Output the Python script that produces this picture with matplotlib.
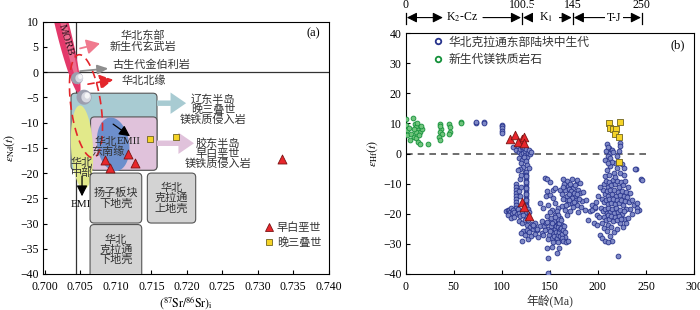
import numpy as np
import matplotlib
matplotlib.use('Agg')
import matplotlib.pyplot as plt
from matplotlib.patches import Polygon, FancyBboxPatch
from matplotlib.lines import Line2D
from matplotlib.ticker import FormatStrFormatter

plt.rcParams['font.family'] = ['Liberation Serif', 'Noto Sans CJK SC']
plt.rcParams['mathtext.fontset'] = 'stix'
plt.rcParams['axes.unicode_minus'] = True

CJK = ['Liberation Serif', 'Noto Sans CJK SC']

# ---------------- Panel (a) data ----------------
a_xticks = [0.700, 0.705, 0.710, 0.715, 0.720, 0.725, 0.730, 0.735, 0.740]
a_yticks = [-40, -35, -30, -25, -20, -15, -10, -5, 0, 5, 10]
a_k1_sr = [0.7085, 0.7092, 0.7117, 0.7127, 0.7334]
a_k1_nd = [-17.5, -18.9, -16.3, -18.1, -17.3]
a_t3_sr = [0.7148, 0.7185]
a_t3_nd = [-13.3, -12.8]

# ---------------- Panel (b) data ----------------
b_xticks = [0, 50, 100, 150, 200, 250, 300]
b_yticks = [-40, -30, -20, -10, 0, 10, 20, 30, 40]

cz_mafic = np.array([
    (0.5, 11.5), (0.5, 9.6), (1, 7.9), (1.5, 6.3), (8, 11.7), (9.5, 9.7), (11, 8.8), (13, 7.7),
    (14.5, 7.2), (10.5, 7.0), (6, 6.6), (8.5, 5.5), (11, 5.0), (13, 3.9), (15, 3.2), (16.5, 8.2),
    (15.5, 9.0), (4.5, 4.6), (23, 3.3), (36, 9.7), (37, 8.2), (36, 7.2), (38, 6.6), (35, 5.5),
    (36, 4.6), (36, 9.0), (45, 9.7), (46, 8.9), (46, 7.3), (45, 6.6), (58, 10.5), (58, 10.0),
    (12, 10.2), (14, 6.0), (9, 8.2), (3, 8.5)])

ncc_early = np.array([
    (73, 10.1), (73, 10.5), (81, 10.5), (81, 10.0), (100, 9.6), (100, 9.0), (100, 8.3),
    (100, 7.5), (100, 6.8)])

ncc_k1 = np.array([
    (112, 2.0), (115, 1.2), (117, 2.4), (118, 0.5), (119, 1.6), (120, -0.3), (121, 2.2), (122, 1.0),
    (122.5, 0.2), (123, 1.8), (124, -0.5), (124.5, 0.8), (125, 1.5), (126, -1.0), (127, 0.3),
    (128, 1.2), (129, -0.2), (130, 0.6), (118, -1.5), (121, -2.0), (123, -1.2), (125, -2.6),
    (120, -3.2), (122, -4.5), (119, -5.0), (126, -3.8), (124, -6.0), (117, -5.5), (128, -4.8),
    (125.2, -6), (125.4, -7), (125.2, -8), (125.4, -9), (125.2, -10), (125.4, -11), (125.2, -12),
    (125.4, -13), (125.2, -14), (125.4, -15), (125.2, -16), (125.4, -17), (125.2, -18),
    (125.4, -19), (125.2, -20), (125.4, -21), (124.8, -7.5), (124.8, -9.5), (124.8, -11.5),
    (124.8, -13.5), (124.8, -15.5), (124.8, -17.5), (124.8, -19.5),
    (114.8, -10), (114.6, -11), (114.8, -12), (114.6, -13), (114.8, -14), (114.6, -15),
    (114.8, -16), (114.6, -17), (114.8, -18), (114.6, -19), (119, -8.5), (120, -7),
    (118, -12.5), (119, -14), (120, -11),
    (104, -19.2), (106, -18.6), (107, -19.8), (108, -18.9), (109, -19.5), (110, -18.2),
    (111, -19.9), (112, -18.7), (113, -19.4), (116, -20.0), (117, -18.5), (118, -19.7),
    (119, -20.6), (121, -19.0), (122, -20.3), (106, -20.4), (110, -21.3), (113, -21.0),
    (127, -18.5), (128, -19.5),
    (118, -22.5), (121, -23.0), (124, -22.2), (126, -23.8), (127, -22.0), (129, -24.5),
    (131, -23.5), (132, -25.0), (122, -25.8), (120, -26.5), (124, -27.0), (126, -25.5),
    (128, -26.2), (121, -29.0), (127, -28.5), (133, -24.0), (130, -27.5), (135, -26.8),
    (135, -23.0), (137, -25.5)])

ncc_j = np.array([
    (145, -8.1), (147, -8.5), (150, -9.3), (153, -12.0), (147, -12.5), (146, -14.2), (150, -13.8),
    (153.7, -14.7), (148.5, -17), (155.5, -16.4), (152, -18.6), (159, -18.0), (146.8, -20.8),
    (155.5, -20.3), (160.7, -21.4), (150, -19.5), (157, -19.2), (143, -18.0), (140, -16.5),
    (141.6, -22.5), (139.9, -24.1), (136.4, -25.2), (141.6, -26.3), (132.9, -23.6), (144, -24.0),
    (146, -23.2), (143, -27.0), (138, -27.8),
    (150.3, -22.5), (157.2, -23), (162.4, -23.6), (153.7, -24.7), (159, -25.2), (152, -26.3),
    (157.2, -26.9), (162.4, -25.8), (155.5, -28), (160.7, -28.6), (165.9, -27.7), (148, -25),
    (149, -27), (151, -24), (152, -28), (154, -22.5), (154, -27.5), (155, -25), (156, -24),
    (156, -26), (157, -28.2), (158, -23.5), (158, -27), (159, -24.5), (160, -26), (160, -23),
    (161, -27.3), (161, -25), (162, -24.6), (163, -26.7), (163, -28), (164, -25.3), (165, -24),
    (152.5, -23.2), (150, -25.8), (148, -28.5), (153, -29.5), (158, -29.5), (164, -29.2),
    (166, -26), (167, -29.5), (151, -21.5), (147, -22.6), (145, -25.5), (158, -21.8), (162, -22),
    (159, -20.4), (155, -21.2),
    (146.8, -31.3), (148.5, -34.6), (157.2, -33), (169.4, -29.1), (152, -31), (160, -31.5),
    (148, -39.6),
    (167.6, -9.2), (172.8, -8.4), (178, -9.7), (169.4, -10.9), (174.6, -11.4), (179.8, -12),
    (171.1, -13.1), (176.3, -14.2), (181.5, -13.1), (167.6, -15.3), (172.8, -16.4), (178, -17),
    (183.2, -15.8), (165.9, -18.6), (171.1, -19.1), (160.7, -12), (162.4, -13.6), (164, -15),
    (155.5, -11.4), (186.7, -18.6), (191.9, -19.1), (166, -12.2), (168, -14), (170, -11.8),
    (172, -12.5), (173, -14.8), (175, -13), (177, -15.5), (169, -16.8), (174, -17.8), (165, -10),
    (176, -10.5), (180, -15), (184, -12.8), (168, -20.5), (163, -17.5), (170, -15.5),
    (179, -19.5), (182, -17.8), (188, -15.5), (164, -11), (170, -13.6), (175, -16), (167, -17),
    (171, -10), (178, -13.5), (164, -8.4), (177.8, -8.9), (181.3, -9.8)])

ncc_t = np.array([
    (209.4, 3.0), (211.1, 1.9), (208.7, 0.8), (212.8, 0.2), (210, -0.9), (207.6, -2), (214.6, 1.3),
    (223.2, 3.5), (222.5, 2.4), (221.5, 0.8), (219.8, -0.9), (218, -3.1), (225, -3.6),
    (226.7, -4.8), (219.8, -4.8), (212.8, -4.2), (216.3, -6.4), (223.2, -6.4), (226.7, -7),
    (239.9, -5.3), (244.7, -8.6), (210, 2.2), (213, -1.5), (215, -2.8), (211, -3.2), (209, -5.5),
    (216, 0.5),
    (193.7, -17), (197.2, -18.1), (195.5, -23), (199, -23.6), (205.9, -24.7), (211, -23.6),
    (209.4, -25.8), (202.4, -26.9), (229.5, -23), (237.1, -17), (240.6, -16.4), (242.3, -18.6),
    (233, -18.3), (229, -18.5), (226.7, -21.9), (223, -23), (212.8, -27.4), (203.8, -28.1),
    (207.3, -29.2), (221.1, -34), (238.5, -5.3), (245.4, -8.7), (240.2, -18.1), (240.9, -19.2),
    (190, -22), (193.4, -18.7), (196.9, -17.6), (198.6, -20.3),
    (206, -10), (208, -9), (210, -11), (212, -9.5), (214, -10.5), (216, -8.8), (218, -10),
    (220, -9.2), (222, -11), (224, -9.6), (226, -10.6), (228, -9), (205, -12), (207, -13.5),
    (209, -12.5), (211, -14), (213, -12.2), (215, -13.6), (217, -12), (219, -14.2),
    (221, -12.8), (223, -13.9), (225, -12.4), (227, -14), (229, -12.7), (204, -15), (206, -16.2),
    (208, -15.4), (210, -16.8), (212, -15.2), (214, -16.5), (216, -15), (218, -16.9),
    (220, -15.5), (222, -16.4), (224, -15.3), (226, -17), (228, -15.8), (230, -14.5), (203, -18),
    (205, -19), (207, -18.3), (209, -19.6), (211, -18.2), (213, -19.4), (215, -18.4),
    (217, -19.8), (219, -18.1), (221, -19.3), (223, -18.6), (225, -20), (227, -19.2), (206, -21),
    (208, -22), (210, -20.5), (212, -21.6), (214, -20.8), (216, -22.4), (218, -21), (220, -22),
    (222, -20.6), (224, -21.8), (207, -7.5), (212, -7), (218, -7.8), (231, -11), (233, -13),
    (232, -16), (235, -20), (200, -14), (202, -11), (198, -16), (201, -21), (204, -23),
    (214, -24.5), (217, -26), (220, -25), (215, -28.9), (210, -29.3), (226, -24.5),
    (231, -21.3), (236, -15.5)])

b_k1_age = [108.6, 113.9, 120.8, 123.2, 117.3, 123.2, 120.6, 123.0, 128.2]
b_k1_hf = [4.65, 6.0, 4.9, 5.55, 3.9, 3.55, -16.2, -17.9, -20.6]
b_t3_age = [211.8, 222.5, 212.8, 215.6, 219.0, 218.0, 221.5, 222.2]
b_t3_hf = [9.97, 10.5, 8.5, 8.0, 8.0, 6.6, 5.5, -2.7]

tl_labels = ['0', '100.5', '145', '250']
tl_pos = [0.001, 0.4034, 0.5793, 0.8186]

# ---------------- colours ----------------
RED_FC, RED_EC = '#e8262b', '#7a1515'
YEL_FC, YEL_EC = '#f5d327', '#6f6420'
BLUE_FC, BLUE_EC = '#7f89c6', '#27338c'
GRN_FC, GRN_EC = '#70c47c', '#14913a'

fig = plt.figure(figsize=(7, 3.1), dpi=100)
axa = fig.add_axes([42.7 / 700, 36 / 310, 286.1 / 700, 252.3 / 310])
axb = fig.add_axes([405.7 / 700, 36 / 310, 288.3 / 700, 241 / 310])


def scales(ax):
    x0, x1 = ax.get_xlim()
    y0, y1 = ax.get_ylim()
    bb = ax.get_position()
    sx = bb.width * 700 / (x1 - x0)
    sy = bb.height * 310 / (y1 - y0)
    return sx, sy


def px_ellipse(ax, cx, cy, w, h, angle=0.0, **kw):
    sx, sy = scales(ax)
    t = np.linspace(0, 2 * np.pi, 120)
    th = np.radians(angle)
    a, b = w / 2, h / 2
    dx = a * np.cos(t) * np.cos(th) - b * np.sin(t) * np.sin(th)
    dy = a * np.cos(t) * np.sin(th) + b * np.sin(t) * np.cos(th)
    p = Polygon(np.column_stack([cx + dx / sx, cy + dy / sy]), closed=True, **kw)
    ax.add_patch(p)
    return p


def rbox(ax, x0, x1, y0, y1, r=4, **kw):
    sx, sy = scales(ax)
    p = FancyBboxPatch((x0, y0), x1 - x0, y1 - y0,
                       boxstyle=f"round,pad=0,rounding_size={r / sx}",
                       mutation_aspect=sx / sy, **kw)
    ax.add_patch(p)
    return p


# ======================= Panel (a) =======================
ax = axa
ax.set_xlim(0.6997, 0.740)
ax.set_ylim(-40, 10)
ax.set_xticks(a_xticks)
ax.set_yticks(a_yticks)
ax.xaxis.set_major_formatter(FormatStrFormatter('%.3f'))
ax.tick_params(direction='in', length=3, width=0.8, labelsize=8.5, pad=3)
ax.tick_params(axis='x', pad=5)

ax.axvline(0.7044, color='#333333', lw=0.9, zorder=1)
ax.axhline(0, color='#333333', lw=0.9, zorder=1)

# MORB band
px_ellipse(ax, 0.70262, 8.23, 130, 14, -76, fc='#e3386a', ec='none', zorder=2)
px_ellipse(ax, 0.70300, 7.6, 105, 6, -76, fc='#f07f9d', ec='none', alpha=0.75, zorder=2.1)
ax.text(0.70300, 6.3, 'MORB', rotation=-73, ha='center', va='center', fontsize=8,
        color='#2a0c18', zorder=2.5)

# boxes
rbox(ax, 0.70369, 0.7158, -19.4, -4.17, r=4, fc='#a8cbd2', ec='#555555', lw=0.8, zorder=3)
rbox(ax, 0.70644, 0.7158, -19.44, -8.87, r=4, fc='#e0c2db', ec='#555555', lw=0.8, zorder=4)
px_ellipse(ax, 0.70524, -14.9, 22, 84, 3, fc='#e2e98a', ec='none', zorder=5)
px_ellipse(ax, 0.70962, -14.3, 32, 54, 8, fc='#6d8fcc', ec='none', zorder=6)

# gray spheres
for cx, cy, d in [(0.70454, -1.19, 12), (0.70552, -4.96, 15)]:
    sx, sy = scales(ax)
    px_ellipse(ax, cx, cy, d, d, fc='#9c9eae', ec='none', zorder=7)
    px_ellipse(ax, cx + 2.2 / sx, cy, d * 0.65, d * 0.7, fc='#d6d7e0', ec='none', zorder=7.1)
    px_ellipse(ax, cx + 3.2 / sx, cy + 0.3, d * 0.35, d * 0.4, fc='#f5f5f7', ec='none', zorder=7.2)

# red dashed ellipse
px_ellipse(ax, 0.70580, -6.75, 30, 104, 8, fc='none', ec='#e3262b', lw=1.2,
           ls=(0, (5, 3)), zorder=8)

# gray crust boxes
gray_kw = dict(fc='#d3d3d3', ec='#555555', lw=0.8, zorder=10)
rbox(ax, 0.70637, 0.71365, -29.9, -20.0, **gray_kw)
rbox(ax, 0.71444, 0.72125, -29.9, -20.0, **gray_kw)
rbox(ax, 0.70637, 0.71365, -41.0, -30.2, **gray_kw)
tkw = dict(ha='center', va='center', fontsize=8, color='#333333', family=CJK,
           linespacing=1.0, zorder=11)
ax.text(0.71001, -24.95, '扬子板块\n下地壳', **tkw)
ax.text(0.71785, -24.95, '华北\n克拉通\n上地壳', **tkw)
ax.text(0.71001, -35.2, '华北\n克拉通\n下地壳', **tkw)

# arrows
def arr(p0, p1, style, color, lw=1.2, ms=12, ls='-', z=9):
    ax.annotate('', xy=p1, xytext=p0,
                arrowprops=dict(arrowstyle=style, color=color, lw=lw, ls=ls,
                                mutation_scale=ms, shrinkA=0, shrinkB=0),
                zorder=z)

arr((0.70496, 4.70), (0.70777, 5.69), '-|>,head_length=0.8,head_width=0.45', '#f07a8e', lw=1.3, ms=10)
arr((0.70496, 0.20), (0.70894, 0.73), '-|>,head_length=0.8,head_width=0.35', '#8e8e8e', lw=1.3, ms=8)
arr((0.70608, -2.38), (0.70961, -1.49), '-|>,head_length=0.8,head_width=0.45', '#e3262b', lw=1.2,
    ms=10, ls='--')
ax.annotate('', xy=(0.71990, -6.15), xytext=(0.7158, -6.15),
            arrowprops=dict(arrowstyle='simple,head_width=1.1,head_length=0.8,tail_width=0.28',
                            fc='#a8cbd2', ec='none', mutation_scale=14, shrinkA=0, shrinkB=0),
            zorder=9)
ax.annotate('', xy=(0.72101, -14.09), xytext=(0.7158, -14.09),
            arrowprops=dict(arrowstyle='simple,head_width=1.1,head_length=0.8,tail_width=0.28',
                            fc='#e0c2db', ec='none', mutation_scale=14, shrinkA=0, shrinkB=0),
            zorder=9)
arr((0.70962, -10.3), (0.71200, -12.7), '-|>,head_length=0.8,head_width=0.4', 'black', lw=0.9, ms=8)
arr((0.70524, -20.6), (0.70524, -24.6), '-|>,head_length=0.8,head_width=0.4', 'black', lw=0.9, ms=8)

# labels
lkw = dict(ha='center', va='center', fontsize=8, color='#333333', family=CJK, zorder=11)
ax.text(0.71384, 6.15, '华北东部\n新生代玄武岩', linespacing=1.08, **lkw)
ax.text(0.71506, 1.39, '古生代金伯利岩', **lkw)
ax.text(0.71389, -1.59, '华北北缘', **lkw)
ax.text(0.72369, -7.34, '辽东半岛\n晚三叠世\n镁铁质侵入岩', linespacing=0.95, **lkw)
ax.text(0.72439, -16.2, '胶东半岛\n早白垩世\n镁铁质侵入岩', linespacing=0.95, **lkw)
ax.text(0.70855, -13.79, '华北', **lkw)
ax.text(0.71179, -13.79, 'EMII', ha='center', va='center', fontsize=8, color='#222222', zorder=11)
ax.text(0.70890, -15.81, '东南缘', **lkw)
ax.text(0.70520, -19.0, '华北\n中部', linespacing=1.0, **lkw)
ax.text(0.70505, -26.2, 'EMI', ha='center', va='center', fontsize=8, color='#111111', zorder=8.5)

# data points
ax.scatter(a_k1_sr, a_k1_nd, marker='^', s=42, fc=RED_FC, ec=RED_EC, lw=0.6, zorder=12)
ax.scatter(a_t3_sr, a_t3_nd, marker='s', s=24, fc=YEL_FC, ec=YEL_EC, lw=0.6, zorder=12)

leg = ax.legend(handles=[
    Line2D([], [], marker='^', ls='', ms=6, mfc=RED_FC, mec=RED_EC, mew=0.6, label='早白垩世'),
    Line2D([], [], marker='s', ls='', ms=4.5, mfc=YEL_FC, mec=YEL_EC, mew=0.6, label='晚三叠世')],
    loc='upper left', bbox_to_anchor=(0.776, 0.205), frameon=False, fontsize=8,
    handlelength=0.8, handletextpad=0.3, labelspacing=0.35, borderaxespad=0, borderpad=0)
for t in leg.get_texts():
    t.set_color('#333333')
    t.set_family(CJK)

ax.text(0.945, 0.955, '(a)', transform=ax.transAxes, ha='center', va='center', fontsize=9)
ax.set_ylabel(r'$\varepsilon_{\rm Nd}(t)$', fontsize=8.5, labelpad=2)
ax.set_xlabel(r'$(^{87}{\rm Sr}/^{86}{\rm Sr})_{\rm i}$', fontsize=8.5, labelpad=1)

# ======================= Panel (b) =======================
ax = axb
ax.set_xlim(0, 300)
ax.set_ylim(-40, 40)
ax.set_xticks(b_xticks)
ax.set_yticks(b_yticks)
ax.tick_params(direction='in', length=3, width=0.8, labelsize=8.5, pad=3)
ax.tick_params(axis='x', pad=5)

ax.plot([0, 250], [0, 0], color='#555555', lw=1.2, ls=(0, (4, 3)), zorder=1)

mk = dict(s=12, lw=0.6, zorder=3)
ax.scatter(cz_mafic[:, 0], cz_mafic[:, 1], fc=GRN_FC, ec=GRN_EC, **mk)
for grp in (ncc_early, ncc_k1, ncc_j, ncc_t):
    ax.scatter(grp[:, 0], grp[:, 1], fc=BLUE_FC, ec=BLUE_EC, **mk)
ax.scatter(b_k1_age, b_k1_hf, marker='^', s=38, fc=RED_FC, ec=RED_EC, lw=0.6, zorder=5)
ax.scatter(b_t3_age, b_t3_hf, marker='s', s=22, fc=YEL_FC, ec=YEL_EC, lw=0.6, zorder=5)

leg = ax.legend(handles=[
    Line2D([], [], marker='o', ls='', ms=4, mfc='none', mec=BLUE_EC, mew=1.3,
           label='华北克拉通东部陆块中生代'),
    Line2D([], [], marker='o', ls='', ms=4, mfc='none', mec=GRN_EC, mew=1.3,
           label='新生代镁铁质岩石')],
    loc='upper left', bbox_to_anchor=(0.096, 0.985), frameon=False, fontsize=8.5,
    handlelength=0.8, handletextpad=0.5, labelspacing=0.45, borderaxespad=0, borderpad=0)
for t in leg.get_texts():
    t.set_color('#333333')
    t.set_family(CJK)

ax.text(0.944, 0.950, '(b)', transform=ax.transAxes, ha='center', va='center', fontsize=9)
ax.set_ylabel(r'$\varepsilon_{\rm Hf}(t)$', fontsize=8.5, labelpad=2)
ax.set_xlabel('年龄(Ma)', fontsize=8.5, labelpad=2, family=CJK, color='#333333')

# timeline above panel (b)
ytxt, yarr, yb0, yb1 = 1.116, 1.064, 1.037, 1.085
for lab, xp in zip(tl_labels, tl_pos):
    ax.text(xp, ytxt, lab, transform=ax.transAxes, ha='center', va='center', fontsize=8.5,
            clip_on=False)
    ax.plot([xp, xp], [yb0, yb1], transform=ax.transAxes, color='black', lw=0.9, clip_on=False)

def tl_arrow(x0, x1, style):
    ax.annotate('', xy=(x1, yarr), xytext=(x0, yarr), xycoords='axes fraction',
                textcoords='axes fraction', annotation_clip=False,
                arrowprops=dict(arrowstyle=style, color='black', lw=0.8,
                                mutation_scale=10, shrinkA=0, shrinkB=0))

hs = ',head_length=0.6,head_width=0.3'
tl_arrow(0.004, 0.129, '<|-|>' + hs)
tl_arrow(0.268, 0.400, '-|>' + hs)
tl_arrow(0.407, 0.576, '<|-|>' + hs)
tl_arrow(0.583, 0.816, '<|-|>' + hs)
tbox = dict(fc='white', ec='none', pad=1.5)
ax.text(0.195, yarr, 'K$_2$-Cz', transform=ax.transAxes, ha='center', va='center',
        fontsize=8.5, clip_on=False)
ax.text(0.4866, yarr, 'K$_1$', transform=ax.transAxes, ha='center', va='center',
        fontsize=8.5, bbox=dict(fc='white', ec='none', pad=4), clip_on=False)
ax.text(0.7225, yarr, 'T-J', transform=ax.transAxes, ha='center', va='center',
        fontsize=8.5, bbox=tbox, clip_on=False)

fig.savefig('out.png', dpi=100)
